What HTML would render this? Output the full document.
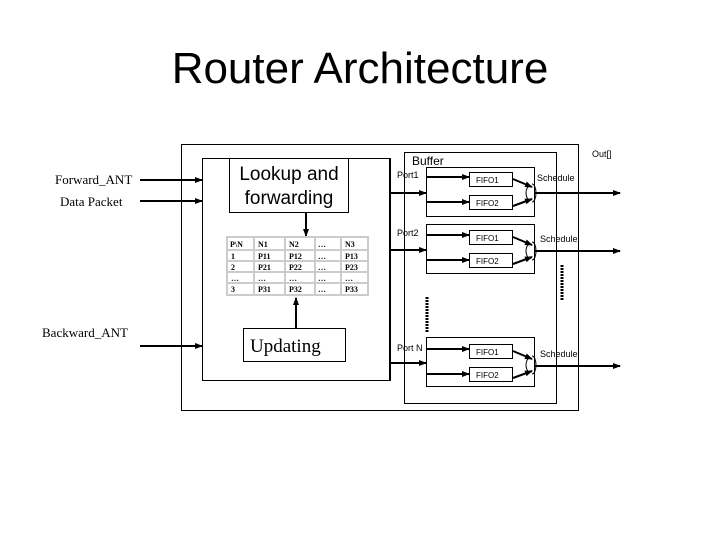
<!DOCTYPE html>
<html><head><style>body{margin:0;background:#fff}svg{display:block}</style></head><body>
<svg width="720" height="540" xmlns="http://www.w3.org/2000/svg" font-family="Liberation Sans, sans-serif">
<defs><marker id="a" markerWidth="8" markerHeight="8" refX="7" refY="4" orient="auto" markerUnits="userSpaceOnUse"><path d="M0,1 L8,4 L0,7z" fill="#000"/></marker></defs>
<text x="360" y="83" font-size="44" text-anchor="middle">Router Architecture</text>
<g fill="none" stroke="#000" stroke-width="1">
<rect x="181.5" y="144.5" width="397" height="266"/>
<rect x="202.5" y="158.5" width="188" height="222"/>
<rect x="229.5" y="158.5" width="119" height="54"/>
<rect x="243.5" y="328.5" width="102" height="33"/>
<rect x="404.5" y="152.5" width="152" height="251"/>
<rect x="426.5" y="167.5" width="108" height="49"/>
<rect x="426.5" y="224.5" width="108" height="49"/>
<rect x="426.5" y="337.5" width="108" height="49"/>
</g>
<g stroke="#000" stroke-width="2" marker-end="url(#a)">
<line x1="140" y1="180" x2="202" y2="180"/>
<line x1="140" y1="201" x2="202" y2="201"/>
<line x1="140" y1="346" x2="202" y2="346"/>
<line x1="306" y1="213" x2="306" y2="236"/>
<line x1="296" y1="328" x2="296" y2="298"/>
<line x1="390" y1="193" x2="426" y2="193"/>
<line x1="390" y1="250" x2="426" y2="250"/>
<line x1="390" y1="363" x2="426" y2="363"/>
<line x1="535" y1="193" x2="620" y2="193"/>
<line x1="535" y1="251" x2="620" y2="251"/>
<line x1="535" y1="366" x2="620" y2="366"/>
</g>
<line x1="390" y1="158" x2="390" y2="381" stroke="#000" stroke-width="2"/>
<g font-family="Liberation Serif, serif" font-size="13">
<text x="55" y="184">Forward_ANT</text><text x="60" y="206">Data Packet</text><text x="42" y="337">Backward_ANT</text></g>
<text x="289" y="180" font-size="19" text-anchor="middle">Lookup  and</text>
<text x="289" y="204" font-size="19" text-anchor="middle">forwarding</text>
<text x="250" y="352" font-size="19" font-family="Liberation Serif, serif">Updating</text>
<g>
<rect x="226" y="236" width="143" height="60" fill="#ccc"/>
<g fill="#fff"><rect x="228" y="238" width="25" height="11"/><rect x="255" y="238" width="29" height="11"/><rect x="286" y="238" width="28" height="11"/><rect x="316" y="238" width="24" height="11"/><rect x="342" y="238" width="25" height="11"/>
<rect x="228" y="251" width="25" height="9"/><rect x="255" y="251" width="29" height="9"/><rect x="286" y="251" width="28" height="9"/><rect x="316" y="251" width="24" height="9"/><rect x="342" y="251" width="25" height="9"/>
<rect x="228" y="262" width="25" height="9"/><rect x="255" y="262" width="29" height="9"/><rect x="286" y="262" width="28" height="9"/><rect x="316" y="262" width="24" height="9"/><rect x="342" y="262" width="25" height="9"/>
<rect x="228" y="273" width="25" height="9"/><rect x="255" y="273" width="29" height="9"/><rect x="286" y="273" width="28" height="9"/><rect x="316" y="273" width="24" height="9"/><rect x="342" y="273" width="25" height="9"/>
<rect x="228" y="284" width="25" height="10"/><rect x="255" y="284" width="29" height="10"/><rect x="286" y="284" width="28" height="10"/><rect x="316" y="284" width="24" height="10"/><rect x="342" y="284" width="25" height="10"/></g>
<g font-family="Liberation Serif, serif" font-size="8" font-weight="bold">
<text x="230" y="247">P\N</text><text x="258" y="247">N1</text><text x="289" y="247">N2</text><text x="318" y="247">…</text><text x="345" y="247">N3</text>
<text x="231" y="259">1</text><text x="258" y="259">P11</text><text x="289" y="259">P12</text><text x="318" y="259">…</text><text x="345" y="259">P13</text>
<text x="231" y="270">2</text><text x="258" y="270">P21</text><text x="289" y="270">P22</text><text x="318" y="270">…</text><text x="345" y="270">P23</text>
<text x="231" y="281">…</text><text x="258" y="281">…</text><text x="289" y="281">…</text><text x="318" y="281">…</text><text x="345" y="281">…</text>
<text x="231" y="292">3</text><text x="258" y="292">P31</text><text x="289" y="292">P32</text><text x="318" y="292">…</text><text x="345" y="292">P33</text></g>
</g>
<text x="412" y="165" font-size="12">Buffer</text>
<text x="592" y="157" font-size="9">Out[]</text>
<g font-size="9">
<text x="397" y="178">Port1</text><text x="397" y="236">Port2</text><text x="397" y="351">Port N</text>
<text x="537" y="181">Schedule</text><text x="540" y="242">Schedule</text><text x="540" y="357">Schedule</text></g>
<g id="p">
<rect x="469.5" y="172.5" width="43" height="14" fill="#fff" stroke="#000"/>
<rect x="469.5" y="195.5" width="43" height="14" fill="#fff" stroke="#000"/>
<text x="476" y="183" font-size="8">FIFO1</text><text x="476" y="206" font-size="8">FIFO2</text>
<g stroke="#000" stroke-width="2" marker-end="url(#a)">
<line x1="427" y1="177" x2="469" y2="177"/><line x1="427" y1="202" x2="469" y2="202"/>
<line x1="513" y1="179" x2="532" y2="187"/><line x1="513" y1="206" x2="532" y2="199"/></g>
<path d="M532,184 a4,9 0 0,1 0,18" fill="none" stroke="#000"/><path d="M530,186 a4,7 0 0,0 0,14" fill="none" stroke="#000"/>
</g>
<use href="#p" y="58"/><use href="#p" y="172"/>
<line x1="427" y1="297" x2="427" y2="332" stroke="#000" stroke-width="3" stroke-dasharray="2,1"/>
<line x1="562" y1="265" x2="562" y2="300" stroke="#000" stroke-width="3" stroke-dasharray="2,1"/>
</svg>
</body></html>
